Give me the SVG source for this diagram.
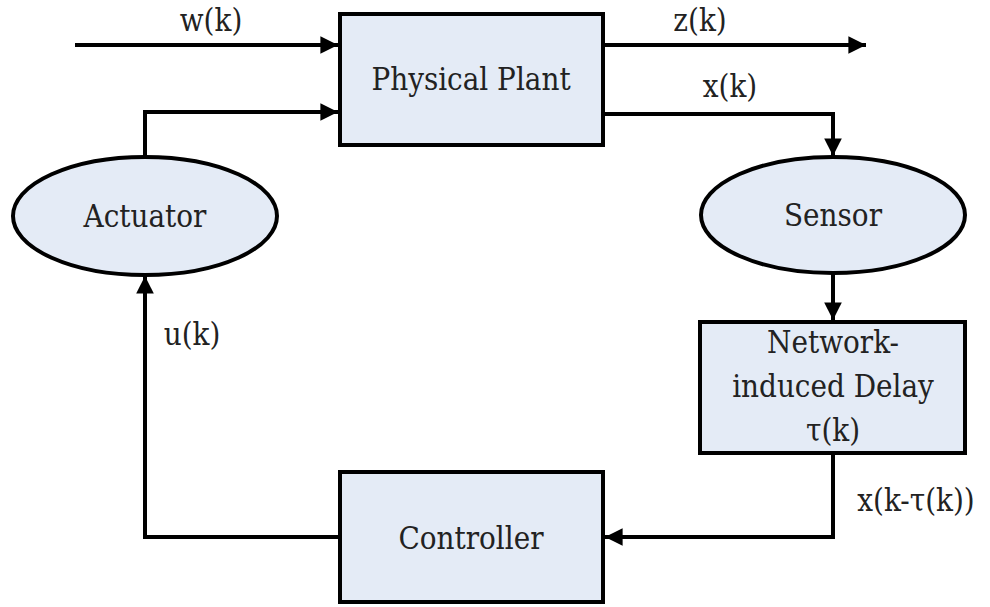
<svg xmlns="http://www.w3.org/2000/svg" width="990" height="607" viewBox="0 0 990 607">
  <style>
    .box { fill: #E4EBF6; stroke: #000; stroke-width: 4; }
    .wire { fill: none; stroke: #000; stroke-width: 4; }
    text { font-family: "DejaVu Serif Condensed", "DejaVu Serif", serif; font-stretch: condensed; font-size: 31px; fill: #222; text-anchor: middle; }
  </style>
  <defs>
    <marker id="arrow" viewBox="0 0 10 10" refX="10" refY="5" markerWidth="5" markerHeight="4.4" markerUnits="strokeWidth" orient="auto">
      <path d="M0,0 L10,5 L0,10 Z" fill="#000"/>
    </marker>
  </defs>

  <g id="connectors">
    <path class="wire" d="M75,45 H338" marker-end="url(#arrow)"/>
    <path class="wire" d="M603,45 H866" marker-end="url(#arrow)"/>
    <path class="wire" d="M145,157 V112 H338" marker-end="url(#arrow)"/>
    <path class="wire" d="M603,114 H833 V156" marker-end="url(#arrow)"/>
    <path class="wire" d="M833,274 V320" marker-end="url(#arrow)"/>
    <path class="wire" d="M833,453 V537 H605" marker-end="url(#arrow)"/>
    <path class="wire" d="M340,537 H145 V276" marker-end="url(#arrow)"/>
    <text x="211" y="31">w(k)</text>
    <text x="700" y="31">z(k)</text>
    <text x="730" y="97">x(k)</text>
    <text x="192" y="345">u(k)</text>
    <text x="916" y="511">x(k-τ(k))</text>
  </g>

  <g id="plant">
    <rect class="box" x="340" y="14" width="263" height="131"/>
    <text x="471" y="90">Physical Plant</text>
  </g>

  <g id="actuator">
    <ellipse class="box" cx="145" cy="216" rx="132" ry="59"/>
    <text x="145" y="227">Actuator</text>
  </g>

  <g id="sensor">
    <ellipse class="box" cx="833" cy="215" rx="132" ry="58"/>
    <text x="833" y="226">Sensor</text>
  </g>

  <g id="delay">
    <rect class="box" x="700" y="322" width="265" height="131"/>
    <text x="833" y="353">Network-</text>
    <text x="833" y="397">induced Delay</text>
    <text x="833" y="441">τ(k)</text>
  </g>

  <g id="controller">
    <rect class="box" x="340" y="472" width="263" height="130"/>
    <text x="471" y="549">Controller</text>
  </g>
</svg>
